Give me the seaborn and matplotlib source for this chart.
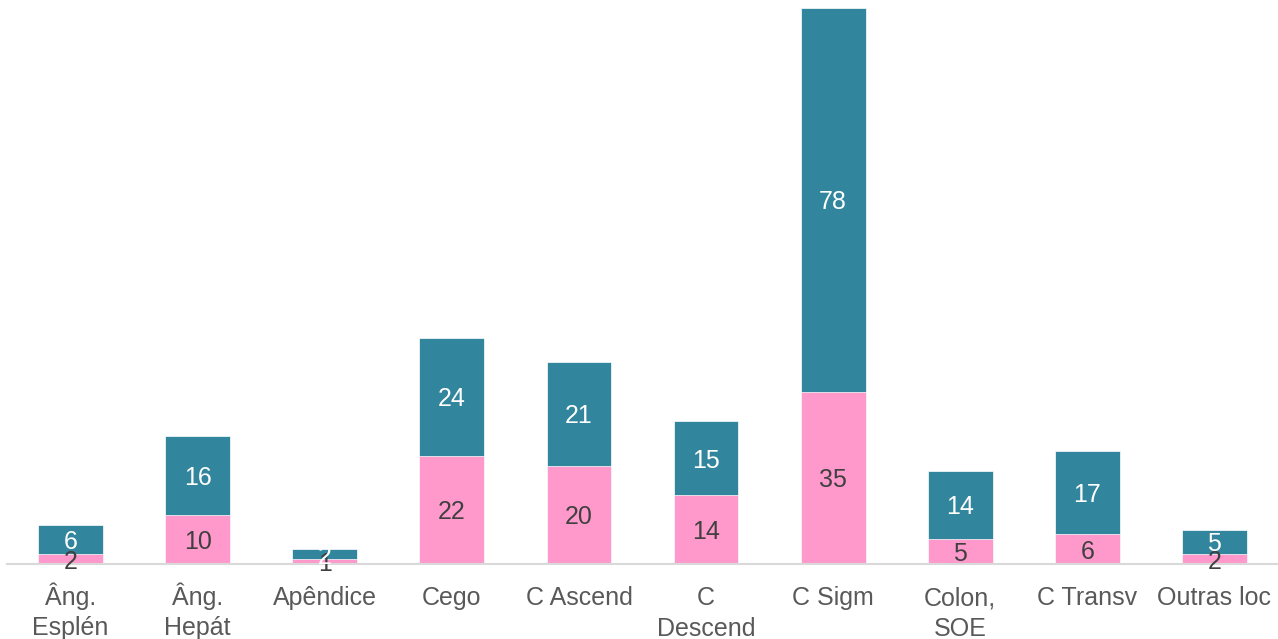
import pandas as pd
import matplotlib
matplotlib.use('Agg')
import matplotlib.pyplot as plt
import seaborn as sns

# 데이터
categories = ['Âng.\nEsplén', 'Âng.\nHepát', 'Apêndice', 'Cego', 'C Ascend',
              'C\nDescend', 'C Sigm', 'Colon,\nSOE', 'C Transv', 'Outras loc']
rosa = [2, 10, 1, 22, 20, 14, 35, 5, 6, 2]
azul = [6, 16, 2, 24, 21, 15, 78, 14, 17, 5]

df = pd.DataFrame({'cat': categories, 'rosa': rosa, 'azul': azul})
df['total'] = df['rosa'] + df['azul']

sns.set_style('white')
plt.rcParams['font.family'] = ['Liberation Sans', 'DejaVu Sans']

fig = plt.figure(figsize=(12.78, 6.39), dpi=100)
ax = fig.add_axes([7 / 1278, 1 - 564 / 639, 1 - 7 / 1278, (564 - 8) / 639])

teal = '#31859C'
pink = '#FF99CC'

sns.barplot(data=df, x='cat', y='total', color=teal, saturation=1, width=0.51,
            edgecolor='white', linewidth=0.5, ax=ax)
sns.barplot(data=df, x='cat', y='rosa', color=pink, saturation=1, width=0.51,
            edgecolor='white', linewidth=0.5, ax=ax)

# 레이블
for i, row in df.iterrows():
    ax.text(i, row['rosa'] / 2, str(row['rosa']), ha='center', va='center_baseline',
            fontsize=18, color='#404040')
    ax.text(i, row['rosa'] + row['azul'] / 2, str(row['azul']), ha='center',
            va='center_baseline', fontsize=18, color='white')

ax.set_ylim(0, 113)
ax.set_xlim(-0.5, len(categories) - 0.5)
ax.set_xlabel('')
ax.set_ylabel('')
ax.set_yticks([])
ax.tick_params(axis='x', length=0, pad=16, labelsize=18, labelcolor='#595959')
for lab in ax.get_xticklabels():
    lab.set_linespacing(1.35)
    if lab.get_text().startswith('Â'):
        lab.set_y(0.0075)  # 악센트 때문에 내려가는 것 보정
for s in ['top', 'right', 'left']:
    ax.spines[s].set_visible(False)
ax.spines['bottom'].set_color('#D9D9D9')
ax.spines['bottom'].set_linewidth(1.5)

plt.savefig('out.png', dpi=100)
